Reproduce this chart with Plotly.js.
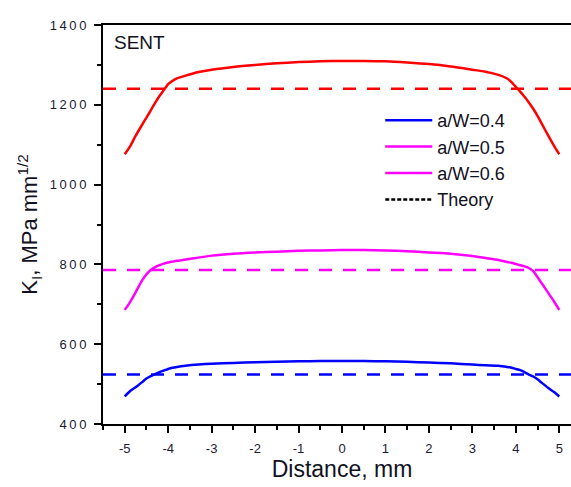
<!DOCTYPE html>
<html>
<head>
<meta charset="utf-8">
<script src="https://cdn.plot.ly/plotly-3.0.1.min.js"></script>
<style>
html, body { margin: 0; padding: 0; overflow: hidden; background: #ffffff; width: 571px; height: 487px; }
#chart { width: 581px; height: 487px; }
</style>
</head>
<body>
<div id="chart"></div>
<script>
// Distance along crack front (mm)
const distance = [-5, -4.88, -4.75, -4.6, -4.5, -4.4, -4.3, -4.2, -4.1, -4.0, -3.9, -3.8, -3.6, -3.3, -3, -2.5, -2, -1.5, -1, -0.5, 0,
                  0.5, 1, 1.5, 2, 2.5, 3, 3.3, 3.6, 3.8, 3.9, 4.0, 4.1, 4.2, 4.3, 4.4, 4.5, 4.6, 4.75, 4.88, 5];
// K_I values (MPa mm^1/2)
const kI_04 = [469, 482, 492, 505, 514, 520, 525, 530, 534, 538, 541, 543, 546, 549, 551, 553, 555, 556, 557, 558, 558,
               558, 557, 556, 554, 552, 549, 547, 546, 543, 541, 538, 535, 530, 524, 519, 512, 503, 490, 480, 469];
const kI_05 = [686, 705, 730, 760, 775, 786, 793, 798, 802, 805, 807, 809, 812, 817, 822, 827, 830, 832, 834, 835, 836,
               836, 835, 833, 830, 827, 821, 816, 811, 806, 804, 801, 798, 795, 791, 783, 768, 752, 728, 707, 686];
const kI_06 = [1076, 1095, 1122, 1150, 1168, 1186, 1205, 1222, 1237, 1252, 1260, 1266, 1273, 1282, 1288, 1295, 1300, 1304, 1307, 1309, 1310,
               1310, 1309, 1306, 1302, 1296, 1288, 1283, 1275, 1266, 1257, 1245, 1233, 1220, 1206, 1190, 1172, 1152, 1122, 1097, 1076];
// Theoretical values
const theoryX = [-5.5, 5.5];
const theory_04 = [524, 524];
const theory_05 = [786, 786];
const theory_06 = [1240, 1240];

const seriesNames = ['a/W=0.4', 'a/W=0.5', 'a/W=0.6', 'Theory'];
const annotationText = 'SENT';
const xTitle = 'Distance, mm';
const yTitle = 'K<sub>I</sub>, MPa mm<sup>1/2</sup>';

const xTickVals = [-5, -4, -3, -2, -1, 0, 1, 2, 3, 4, 5];
const xTickText = ['-5', '-4', '-3', '-2', '-1', '0', '1', '2', '3', '4', '5'];
const yTickVals = [400, 600, 800, 1000, 1200, 1400];
const yTickText = ['4\u20090\u20090', '6\u20090\u20090', '8\u20090\u20090', '1\u20090\u20090\u20090', '1\u20092\u20090\u20090', '1\u20094\u20090\u20090'];

const BLUE = '#0000ff', MAG = '#ff00ff', RED = '#ff0000';
const lw = 2.5;
const dashPat = '13px,11px';
const FONT = 'Liberation Sans, Arial, sans-serif';

const traces = [
  {x: theoryX, y: theory_04, mode: 'lines', line: {color: BLUE, width: lw, dash: dashPat}, showlegend: false, hoverinfo: 'skip'},
  {x: theoryX, y: theory_05, mode: 'lines', line: {color: MAG, width: lw, dash: dashPat}, showlegend: false, hoverinfo: 'skip'},
  {x: theoryX, y: theory_06, mode: 'lines', line: {color: RED, width: lw, dash: dashPat}, showlegend: false, hoverinfo: 'skip'},
  {x: distance, y: kI_04, mode: 'lines', name: seriesNames[0], line: {color: BLUE, width: lw, shape: 'spline', smoothing: 0.6}},
  {x: distance, y: kI_05, mode: 'lines', name: seriesNames[1], line: {color: MAG, width: lw, shape: 'spline', smoothing: 0.6}},
  {x: distance, y: kI_06, mode: 'lines', name: seriesNames[2], line: {color: RED, width: lw, shape: 'spline', smoothing: 0.6}, showlegend: false},
  // legend-only entries (as in the original figure legend)
  {x: [null], y: [null], mode: 'lines', name: seriesNames[2], line: {color: MAG, width: lw}},
  {x: [null], y: [null], mode: 'lines', name: seriesNames[3], line: {color: '#000000', width: lw, dash: '4px,2px'}}
];

const tickFont = {family: FONT, size: 13, color: '#1a1a33'};

const layout = {
  width: 581, height: 487,
  margin: {l: 103, r: 0, t: 25, b: 63},
  paper_bgcolor: '#ffffff', plot_bgcolor: '#ffffff',
  showlegend: true,
  font: {family: FONT, color: '#111122'},
  xaxis: {
    range: [-5.5, 5.5], showgrid: false, zeroline: false,
    showline: true, linecolor: '#000000', linewidth: 2, mirror: true,
    ticks: 'outside', ticklen: 7, tickwidth: 2, tickcolor: '#000000',
    tickvals: xTickVals, ticktext: xTickText, tickfont: tickFont, ticklabelstandoff: 4,
    minor: {dtick: 0.5, tick0: 0, ticks: 'outside', ticklen: 4, tickwidth: 2, tickcolor: '#000000'},
    title: {text: xTitle, font: {family: FONT, size: 23, color: '#111122'}, standoff: 6}
  },
  yaxis: {
    range: [400, 1400], showgrid: false, zeroline: false,
    showline: true, linecolor: '#000000', linewidth: 2, mirror: true,
    ticks: 'outside', ticklen: 7, tickwidth: 2, tickcolor: '#000000',
    tickvals: yTickVals, ticktext: yTickText, tickfont: tickFont, ticklabelstandoff: 5,
    minor: {dtick: 100, tick0: 0, ticks: 'outside', ticklen: 4, tickwidth: 2, tickcolor: '#000000'},
    title: {text: yTitle, font: {family: FONT, size: 22, color: '#111122'}, standoff: 6}
  },
  legend: {
    x: 0.58, y: 0.807, xanchor: 'left', yanchor: 'top',
    bgcolor: 'rgba(0,0,0,0)', borderwidth: 0,
    font: {family: FONT, size: 18, color: '#111122'},
    itemwidth: 47, tracegroupgap: 0
  },
  annotations: [{
    text: annotationText, xref: 'paper', yref: 'paper', x: 0.018, y: 0.955, xanchor: 'left', yanchor: 'middle',
    showarrow: false, font: {family: FONT, size: 19, color: '#111122'}
  }]
};

Plotly.newPlot('chart', traces, layout, {displayModeBar: false, staticPlot: true});
</script>
</body>
</html>
